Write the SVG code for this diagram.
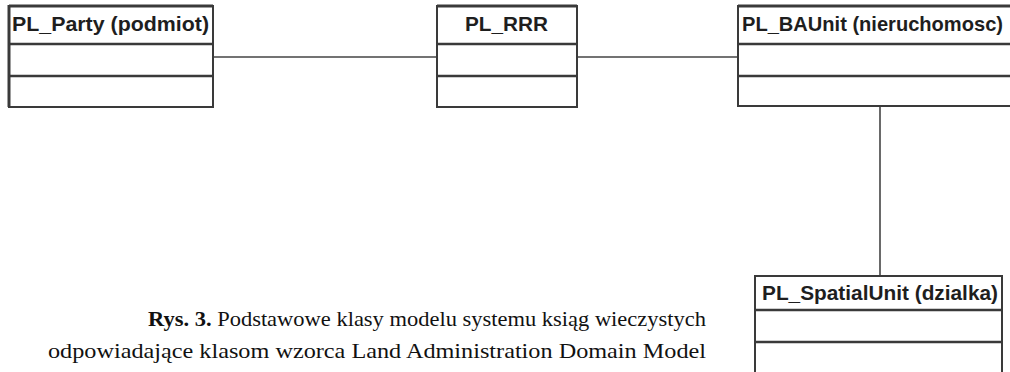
<svg xmlns="http://www.w3.org/2000/svg" width="1010" height="372" viewBox="0 0 1010 372">
  <style>
    .box { fill: #ffffff; stroke: #3a3a3a; stroke-width: 2; }
    .div { stroke: #3a3a3a; stroke-width: 2.5; }
    .edge { stroke: #3a3a3a; stroke-width: 3; }
    .conn { stroke: #444444; stroke-width: 1.6; fill: none; }
    .title { font-family: "Liberation Sans", Arial, sans-serif; font-weight: bold; font-size: 21px; fill: #1e1e1e; }
    .cap { font-family: "Liberation Serif", "Times New Roman", serif; font-size: 22px; fill: #111111; }
  </style>
  <rect width="1010" height="372" fill="#ffffff"/>

  <!-- associations -->
  <g id="connectors">
    <line class="conn" x1="213" y1="57" x2="437" y2="57"/>
    <line class="conn" x1="577" y1="57" x2="738" y2="57"/>
    <line class="conn" x1="880" y1="106" x2="880" y2="276"/>
  </g>

  <g id="party">
    <rect class="box" x="9" y="6" width="204" height="101"/>
    <line class="edge" x1="9" y1="5" x2="9" y2="107"/>
    <line class="edge" x1="9" y1="6" x2="213" y2="6"/>
    <line class="div" x1="9" y1="44" x2="213" y2="44"/>
    <line class="div" x1="9" y1="76" x2="213" y2="76"/>
    <text class="title" x="12" y="31" textLength="197" lengthAdjust="spacingAndGlyphs">PL_Party (podmiot)</text>
  </g>

  <g id="rrr">
    <rect class="box" x="437" y="6" width="140" height="101"/>
    <line class="edge" x1="437" y1="6" x2="577" y2="6"/>
    <line class="div" x1="437" y1="44" x2="577" y2="44"/>
    <line class="div" x1="437" y1="76" x2="577" y2="76"/>
    <text class="title" x="465" y="31" textLength="83" lengthAdjust="spacingAndGlyphs">PL_RRR</text>
  </g>

  <g id="baunit">
    <rect class="box" x="738" y="6" width="290" height="100"/>
    <line class="edge" x1="738" y1="6" x2="1010" y2="6"/>
    <line class="div" x1="738" y1="44" x2="1010" y2="44"/>
    <line class="div" x1="738" y1="76" x2="1010" y2="76"/>
    <text class="title" x="742" y="31" textLength="261" lengthAdjust="spacingAndGlyphs">PL_BAUnit (nieruchomosc)</text>
  </g>

  <g id="spatialunit">
    <rect class="box" x="755" y="276" width="247" height="110"/>
    <line class="div" x1="755" y1="310" x2="1002" y2="310"/>
    <line class="div" x1="755" y1="342" x2="1002" y2="342"/>
    <text class="title" x="762" y="300" textLength="236" lengthAdjust="spacingAndGlyphs">PL_SpatialUnit (dzialka)</text>
  </g>

  <g id="caption">
    <text class="cap" x="148" y="326" textLength="558" lengthAdjust="spacingAndGlyphs"><tspan font-weight="bold">Rys. 3.</tspan> Podstawowe klasy modelu systemu ksiąg wieczystych</text>
    <text class="cap" x="48" y="358" textLength="658" lengthAdjust="spacingAndGlyphs">odpowiadające klasom wzorca Land Administration Domain Model</text>
  </g>
</svg>
